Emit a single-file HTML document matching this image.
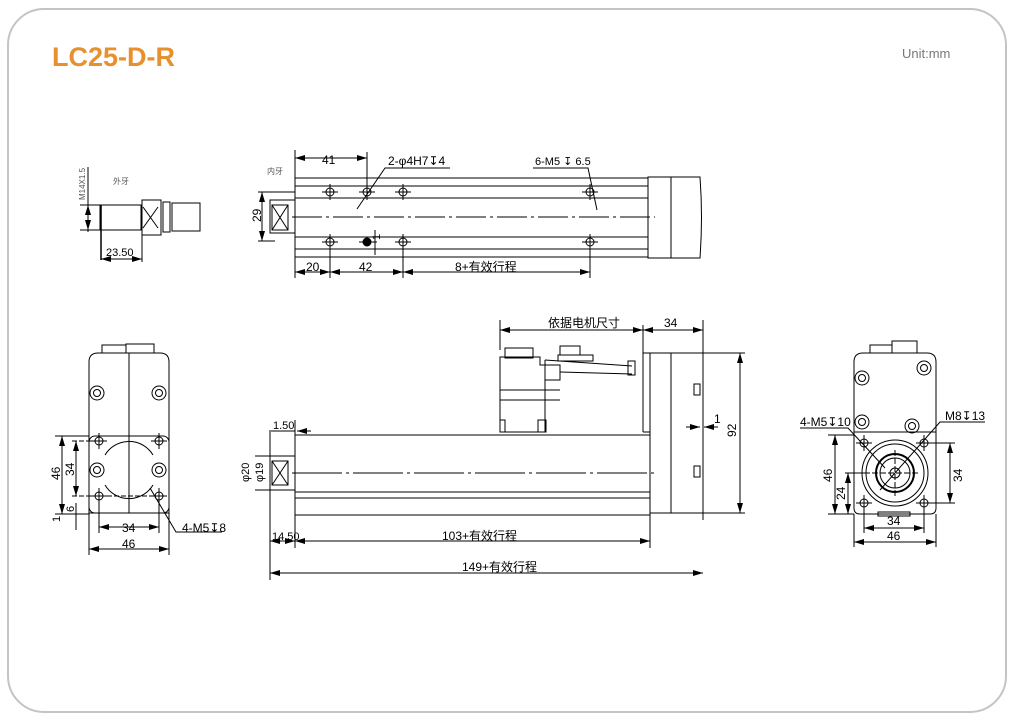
<!DOCTYPE html>
<html><head><meta charset="utf-8"><style>
html,body{margin:0;padding:0;background:#fff;}
svg{display:block;font-family:"Liberation Sans","Noto Sans CJK SC",sans-serif;}
</style></head><body>
<svg width="1030" height="728" viewBox="0 0 1030 728" xmlns="http://www.w3.org/2000/svg">
<defs>
<marker id="a" viewBox="0 0 10 6" refX="10" refY="3" markerWidth="10" markerHeight="6" orient="auto-start-reverse" markerUnits="userSpaceOnUse"><path d="M0,0L10,3L0,6z" fill="#000"/></marker>
<g id="h" fill="none" stroke="#000" stroke-width="1"><circle r="4"/><line x1="-8" y1="0" x2="8" y2="0"/><line x1="0" y1="-8" x2="0" y2="8"/></g>
<g id="bh" fill="none" stroke="#000" stroke-width="1"><circle r="7"/><circle r="3.5"/></g>
</defs>
<rect x="8" y="9" width="998" height="703" rx="36" fill="#fff" stroke="#c4c4c4" stroke-width="2"/>
<text x="52" y="66" font-size="27" font-weight="bold" fill="#e8902e">LC25-D-R</text>
<text x="902" y="58" font-size="13" fill="#777">Unit:mm</text>

<g fill="none" stroke="#000" stroke-width="1">
<!-- small fitting -->
<line x1="88" y1="167" x2="88" y2="232"/>
<line x1="80" y1="205" x2="100" y2="205"/><line x1="80" y1="230" x2="100" y2="230"/>
<line x1="88" y1="205" x2="88" y2="230" marker-start="url(#a)" marker-end="url(#a)"/>
<rect x="100" y="205" width="41" height="25"/>
<line x1="101" y1="205" x2="101" y2="260" stroke-width="1.5"/>
<rect x="142" y="200" width="19" height="35"/>
<path d="M143,207L158,228M158,207L143,228"/>
<rect x="163" y="202" width="7" height="30"/>
<rect x="172" y="203" width="28" height="28"/>
<line x1="142" y1="235" x2="142" y2="262"/>
<line x1="101" y1="259" x2="142" y2="259" marker-start="url(#a)" marker-end="url(#a)"/>

<!-- top view -->
<rect x="295" y="178" width="353" height="79"/>
<line x1="295" y1="186" x2="648" y2="186"/><line x1="295" y1="198" x2="648" y2="198"/>
<line x1="295" y1="237" x2="648" y2="237"/><line x1="295" y1="249" x2="648" y2="249"/>
<line x1="292" y1="217" x2="655" y2="217" stroke-dasharray="30,4,3,4"/>
<rect x="648" y="177" width="23" height="81"/>
<path d="M671,177H700Q703,217 700,258H671"/>
<rect x="270" y="200" width="25" height="33"/>
<rect x="272" y="205" width="16" height="25"/><path d="M272,205L288,230M288,205L272,230"/>
<use href="#h" x="330" y="192"/><use href="#h" x="367" y="192"/><use href="#h" x="403" y="192"/><use href="#h" x="590" y="192"/>
<use href="#h" x="330" y="242"/><use href="#h" x="403" y="242"/><use href="#h" x="590" y="242"/>
<circle cx="367" cy="242" r="4" fill="#000"/><line x1="359" y1="242" x2="377" y2="242"/>
<line x1="375" y1="230" x2="375" y2="255"/>
<line x1="295" y1="150" x2="295" y2="278"/><line x1="367" y1="152" x2="367" y2="190"/>
<line x1="295" y1="158" x2="367" y2="158" marker-start="url(#a)" marker-end="url(#a)"/>
<path d="M357,209L385,168H450"/><path d="M533,168H588L597,210"/>
<line x1="330" y1="248" x2="330" y2="278"/><line x1="403" y1="248" x2="403" y2="278"/><line x1="590" y1="248" x2="590" y2="278"/>
<line x1="295" y1="272" x2="330" y2="272" marker-start="url(#a)" marker-end="url(#a)"/>
<line x1="330" y1="272" x2="403" y2="272" marker-start="url(#a)" marker-end="url(#a)"/>
<line x1="403" y1="272" x2="590" y2="272" marker-start="url(#a)" marker-end="url(#a)"/>
<line x1="258" y1="192" x2="295" y2="192"/><line x1="258" y1="241" x2="275" y2="241"/>
<line x1="262" y1="192" x2="262" y2="241" marker-start="url(#a)" marker-end="url(#a)"/>

<!-- left end view -->
<path d="M89,513V362Q89,353 98,353H160Q169,353 169,362V513Z"/>
<rect x="102" y="345" width="24" height="8"/><rect x="126" y="344" width="28" height="9"/>
<line x1="129" y1="353" x2="129" y2="513"/>
<rect x="89" y="436" width="80" height="77" rx="6"/>
<path d="M105,455A28,28 0 0 1 153,455M105,485A28,28 0 0 0 153,485"/>
<use href="#bh" x="97" y="393"/><use href="#bh" x="159" y="393"/><use href="#bh" x="97" y="470"/><use href="#bh" x="159" y="470"/>
<use href="#h" x="99" y="441"/><use href="#h" x="159" y="441"/><use href="#h" x="99" y="496"/><use href="#h" x="159" y="496"/>
<line x1="55" y1="436" x2="89" y2="436"/><line x1="55" y1="514" x2="89" y2="514"/>
<line x1="62" y1="436" x2="62" y2="514" marker-start="url(#a)" marker-end="url(#a)"/>
<line x1="72" y1="441" x2="99" y2="441" stroke-dasharray="5,2"/><line x1="72" y1="496" x2="159" y2="496" stroke-dasharray="5,2"/>
<line x1="76" y1="441" x2="76" y2="496" marker-start="url(#a)" marker-end="url(#a)"/>
<line x1="76" y1="503" x2="76" y2="530"/>
<line x1="99" y1="500" x2="99" y2="533"/><line x1="159" y1="500" x2="159" y2="533"/>
<line x1="89" y1="513" x2="89" y2="555"/><line x1="169" y1="513" x2="169" y2="555"/>
<line x1="99" y1="527" x2="159" y2="527" marker-start="url(#a)" marker-end="url(#a)"/>
<line x1="89" y1="549" x2="169" y2="549" marker-start="url(#a)" marker-end="url(#a)"/>
<path d="M150,488L176,532H222"/>

<!-- side view -->
<rect x="295" y="435" width="355" height="80"/>
<line x1="295" y1="492" x2="650" y2="492"/><line x1="295" y1="498" x2="650" y2="498"/>
<line x1="292" y1="473" x2="655" y2="473" stroke-dasharray="50,4,3,4"/>
<rect x="270" y="456" width="25" height="34"/>
<rect x="272" y="461" width="16" height="24"/><path d="M272,461L288,485M288,461L272,485"/>
<rect x="650" y="353" width="21" height="160"/>
<rect x="671" y="353" width="32" height="160"/>
<rect x="694" y="384" width="6" height="11"/><rect x="694" y="466" width="6" height="11"/>
<line x1="643" y1="325" x2="643" y2="432"/><line x1="643" y1="353" x2="650" y2="353"/>
<line x1="643" y1="432" x2="650" y2="432"/>
<path d="M500,432V357H540V365H560V380H545V432Z"/>
<rect x="505" y="348" width="28" height="10"/>
<rect x="560" y="346" width="20" height="9"/><rect x="558" y="355" width="35" height="6"/>
<path d="M545,360L632,366M560,372L632,374"/><rect x="628" y="361" width="7" height="14"/>
<line x1="500" y1="390" x2="560" y2="390"/><line x1="500" y1="400" x2="560" y2="400"/>
<line x1="545" y1="360" x2="545" y2="432"/>
<rect x="500" y="420" width="5" height="12"/><rect x="538" y="420" width="8" height="12"/>
<line x1="500" y1="320" x2="500" y2="350"/><line x1="703" y1="320" x2="703" y2="520"/>
<line x1="500" y1="330" x2="643" y2="330" marker-start="url(#a)" marker-end="url(#a)"/>
<line x1="643" y1="330" x2="703" y2="330" marker-start="url(#a)" marker-end="url(#a)"/>
<line x1="703" y1="353" x2="745" y2="353"/><line x1="703" y1="513" x2="745" y2="513"/>
<line x1="740" y1="353" x2="740" y2="513" marker-start="url(#a)" marker-end="url(#a)"/>
<line x1="686" y1="427" x2="700" y2="427" marker-end="url(#a)"/><line x1="718" y1="427" x2="704" y2="427" marker-end="url(#a)"/>
<line x1="270" y1="430" x2="270" y2="580"/><line x1="295" y1="420" x2="295" y2="548"/>
<line x1="271" y1="431" x2="295" y2="431"/>
<line x1="311" y1="431" x2="297" y2="431" marker-end="url(#a)"/>
<line x1="270" y1="541" x2="295" y2="541" marker-start="url(#a)" marker-end="url(#a)"/>
<line x1="650" y1="515" x2="650" y2="548"/>
<line x1="295" y1="541" x2="650" y2="541" marker-start="url(#a)" marker-end="url(#a)"/>
<line x1="270" y1="573" x2="703" y2="573" marker-start="url(#a)" marker-end="url(#a)"/>
<line x1="255" y1="456" x2="270" y2="456"/><line x1="255" y1="490" x2="270" y2="490"/>

<!-- right view -->
<path d="M854,432V362Q854,353 863,353H927Q936,353 936,362V432Z"/>
<rect x="870" y="345" width="22" height="8"/><rect x="892" y="341" width="25" height="12"/>
<path d="M854,432H936V508Q936,514 930,514H860Q854,514 854,508Z"/>
<circle cx="895" cy="473" r="33"/><circle cx="895" cy="473" r="29"/>
<circle cx="895" cy="473" r="19" stroke-width="2"/><circle cx="895" cy="473" r="15"/><circle cx="895" cy="473" r="5"/>
<line x1="872" y1="473" x2="918" y2="473" stroke-dasharray="6,2"/><line x1="895" y1="450" x2="895" y2="496" stroke-dasharray="6,2"/>
<use href="#h" x="864" y="443"/><use href="#h" x="924" y="443"/><use href="#h" x="864" y="503"/><use href="#h" x="924" y="503"/>
<use href="#bh" x="862" y="378"/><use href="#bh" x="924" y="368"/><use href="#bh" x="862" y="422"/><use href="#bh" x="912" y="426"/>
<rect x="878" y="512" width="32" height="4"/>
<path d="M800,428H848L885,468"/><path d="M985,422H940L880,490"/>
<line x1="828" y1="435" x2="854" y2="435"/><line x1="828" y1="514" x2="854" y2="514"/>
<line x1="835" y1="435" x2="835" y2="514" marker-start="url(#a)" marker-end="url(#a)"/>
<line x1="845" y1="473" x2="870" y2="473"/>
<line x1="848" y1="473" x2="848" y2="514" marker-start="url(#a)" marker-end="url(#a)"/>
<line x1="924" y1="443" x2="955" y2="443"/><line x1="924" y1="503" x2="955" y2="503"/>
<line x1="950" y1="443" x2="950" y2="503" marker-start="url(#a)" marker-end="url(#a)"/>
<line x1="864" y1="510" x2="864" y2="533"/><line x1="924" y1="510" x2="924" y2="533"/>
<line x1="854" y1="514" x2="854" y2="547"/><line x1="936" y1="514" x2="936" y2="547"/>
<line x1="864" y1="528" x2="924" y2="528" marker-start="url(#a)" marker-end="url(#a)"/>
<line x1="854" y1="542" x2="936" y2="542" marker-start="url(#a)" marker-end="url(#a)"/>
</g>

<g font-size="12" fill="#000">
<text x="106" y="256" font-size="11">23.50</text>
<text x="113" y="184" font-size="8" fill="#555">外牙</text>
<text transform="translate(85,200) rotate(-90)" font-size="8" fill="#555">M14X1.5</text>
<text x="322" y="164">41</text>
<text x="388" y="165">2-φ4H7↧4</text>
<text x="535" y="165" font-size="11">6-M5 ↧ 6.5</text>
<text x="267" y="174" font-size="8" fill="#555">内牙</text>
<text transform="translate(261,222) rotate(-90)">29</text>
<text x="306" y="271">20</text>
<text x="359" y="271">42</text>
<text x="455" y="271">8+有效行程</text>
<text transform="translate(380,240) rotate(-90)" font-size="11">1</text>
<text transform="translate(60,480) rotate(-90)">46</text>
<text transform="translate(74,476) rotate(-90)">34</text>
<text transform="translate(74,512) rotate(-90)" font-size="11">6</text>
<text transform="translate(60,522) rotate(-90)" font-size="11">1</text>
<text x="122" y="532">34</text>
<text x="122" y="548">46</text>
<text x="182" y="532">4-M5↧8</text>
<text x="548" y="327">依据电机尺寸</text>
<text x="664" y="327">34</text>
<text transform="translate(736,437) rotate(-90)">92</text>
<text x="714" y="423">1</text>
<text x="273" y="429" font-size="11">1.50</text>
<text x="272" y="540" font-size="11">14.50</text>
<text x="442" y="540">103+有效行程</text>
<text x="462" y="571">149+有效行程</text>
<text transform="translate(249,482) rotate(-90)" font-size="11">φ20</text>
<text transform="translate(263,482) rotate(-90)" font-size="11">φ19</text>
<text x="800" y="426">4-M5↧10</text>
<text x="945" y="420">M8↧13</text>
<text transform="translate(832,482) rotate(-90)">46</text>
<text transform="translate(845,500) rotate(-90)">24</text>
<text transform="translate(962,482) rotate(-90)">34</text>
<text x="887" y="525">34</text>
<text x="887" y="540">46</text>
</g>
</svg>
</body></html>
